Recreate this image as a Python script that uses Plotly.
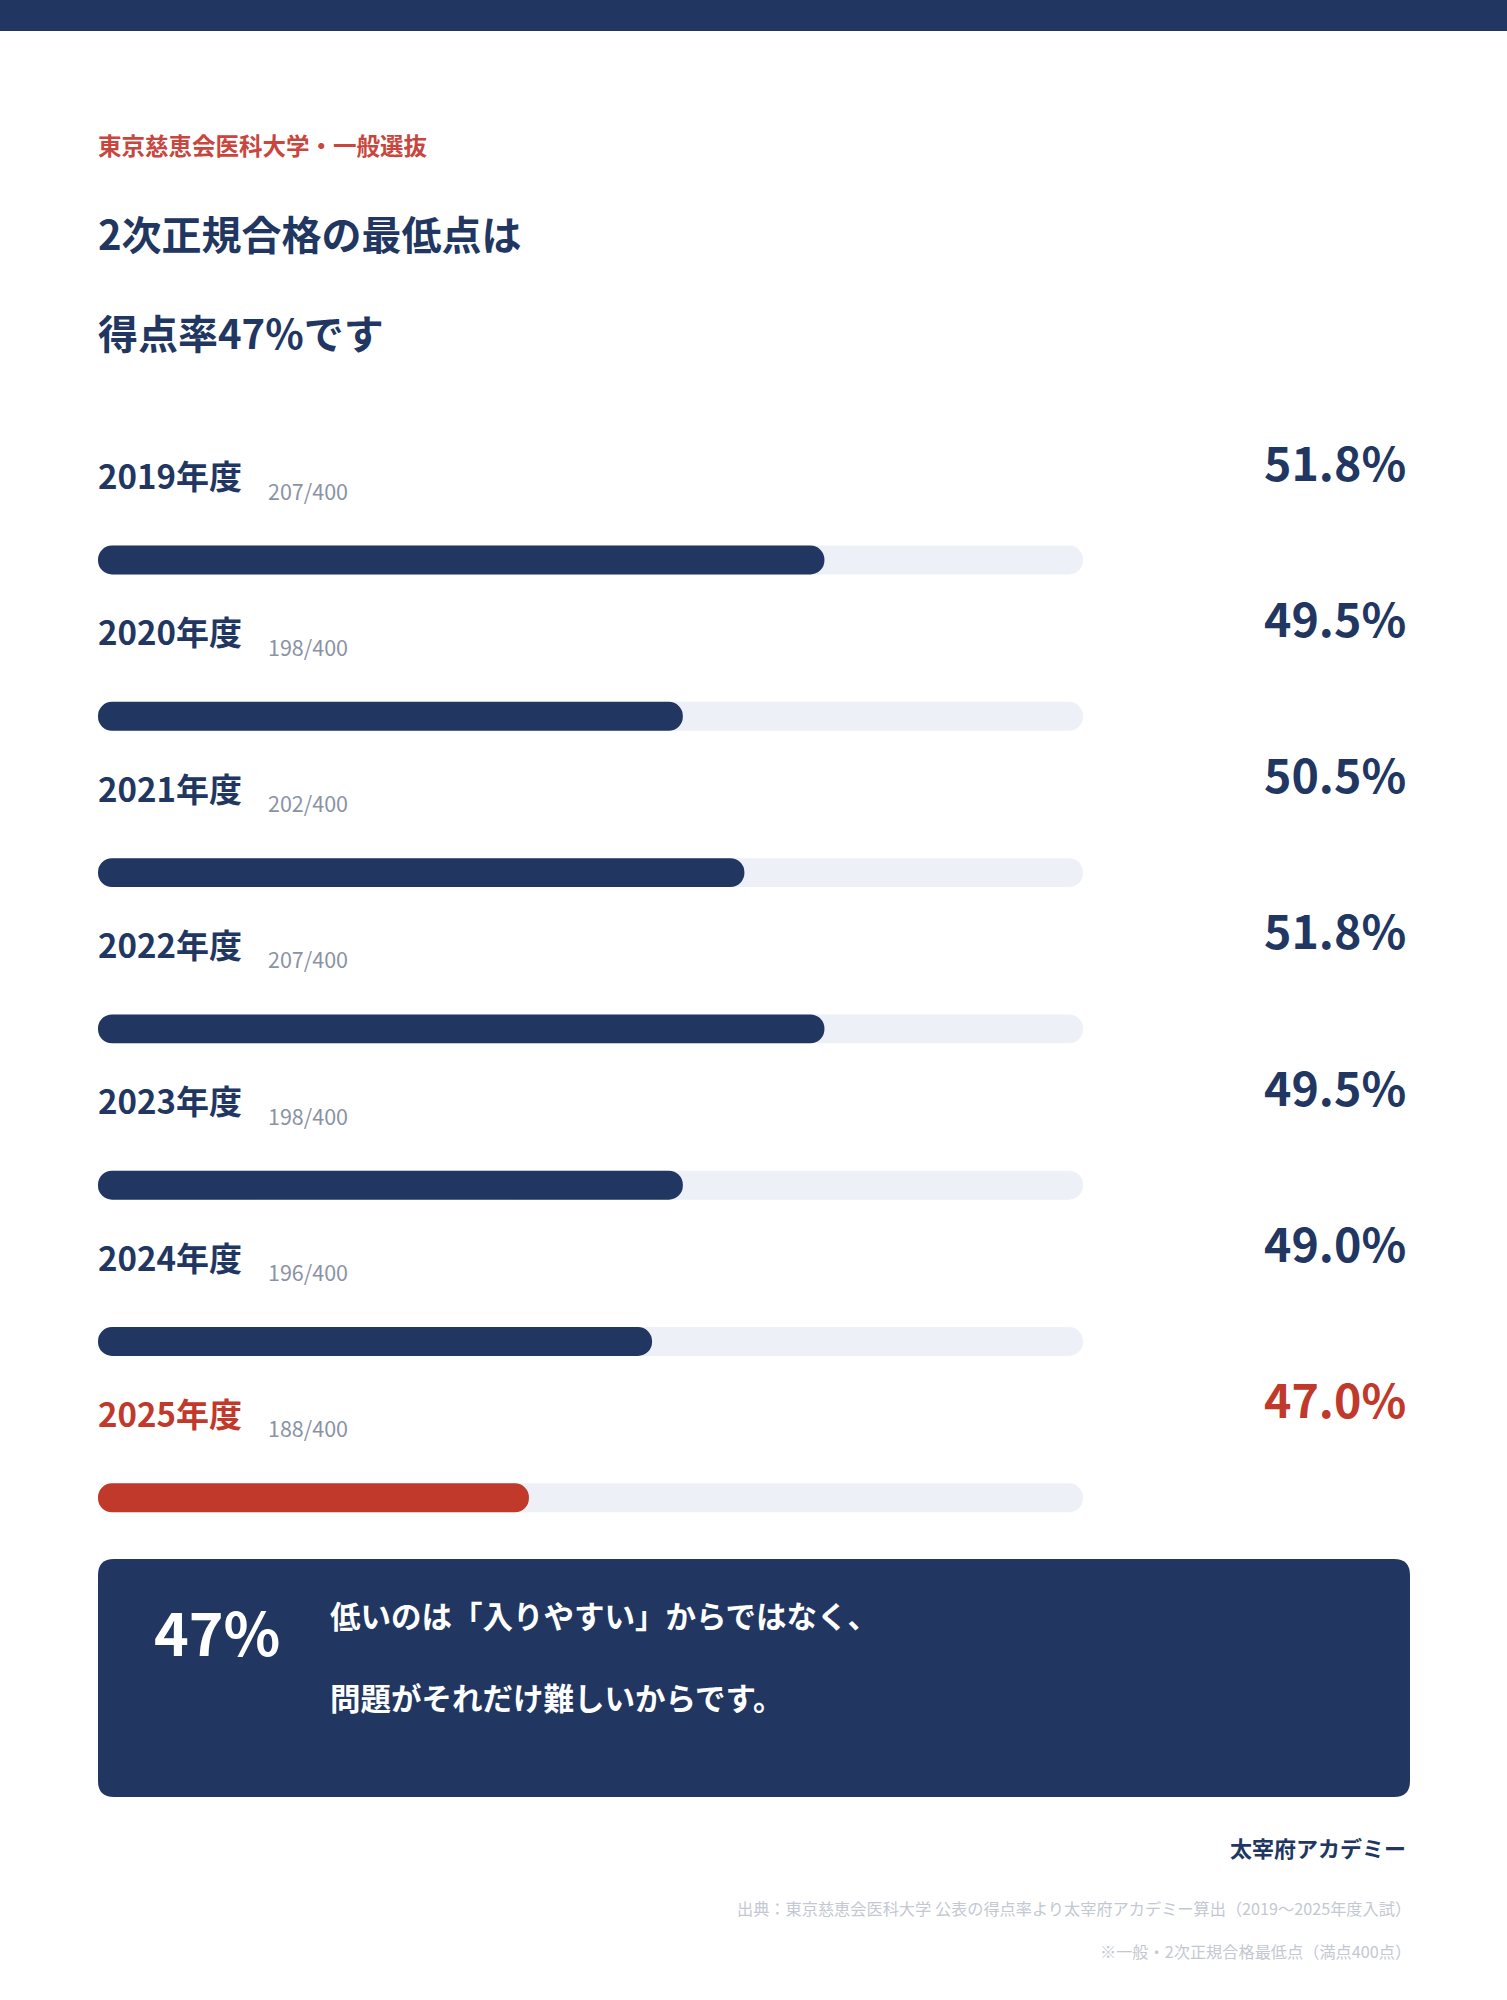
import plotly.graph_objects as go

# data
years = ["2019年度", "2020年度", "2021年度", "2022年度", "2023年度", "2024年度", "2025年度"]
scores = ["207/400", "198/400", "202/400", "207/400", "198/400", "196/400", "188/400"]
rates = [51.8, 49.5, 50.5, 51.8, 49.5, 49.0, 47.0]
rate_labels = ["51.8%", "49.5%", "50.5%", "51.8%", "49.5%", "49.0%", "47.0%"]
axis_min, axis_max = 40, 56

W, H = 1507, 2000
FONT = "Noto Sans CJK JP"
NAVY = "#213762"
RED = "#c0392b"
TRACK = "#edf0f7"
GRAY = "#8a93a6"
LIGHT = "#c3c8d3"

bar_colors = [NAVY] * (len(years) - 1) + [RED]


def px(x):
    return x / W


def py(y):
    return 1 - y / H


def rounded_rect(x0, y0, x1, y1, r):
    # pixel coords -> paper path with rounded corners
    pts = [
        f"M {px(x0 + r)},{py(y0)}",
        f"L {px(x1 - r)},{py(y0)}",
        f"Q {px(x1)},{py(y0)} {px(x1)},{py(y0 + r)}",
        f"L {px(x1)},{py(y1 - r)}",
        f"Q {px(x1)},{py(y1)} {px(x1 - r)},{py(y1)}",
        f"L {px(x0 + r)},{py(y1)}",
        f"Q {px(x0)},{py(y1)} {px(x0)},{py(y1 - r)}",
        f"L {px(x0)},{py(y0 + r)}",
        f"Q {px(x0)},{py(y0)} {px(x0 + r)},{py(y0)}",
        "Z",
    ]
    return " ".join(pts)


fig = go.Figure()

# background track (floating bars with a base get all corners rounded)
fig.add_trace(
    go.Bar(
        y=years,
        x=[axis_max - axis_min] * len(years),
        base=[axis_min] * len(years),
        orientation="h",
        width=0.185,
        marker=dict(color=TRACK, cornerradius=15, line=dict(width=0)),
        hoverinfo="skip",
        showlegend=False,
    )
)

# value bars
fig.add_trace(
    go.Bar(
        y=years,
        x=[r - axis_min for r in rates],
        base=[axis_min] * len(years),
        orientation="h",
        width=0.185,
        marker=dict(color=bar_colors, cornerradius=15, line=dict(width=0)),
        hoverinfo="skip",
        showlegend=False,
    )
)

annotations = []
for i, yr in enumerate(years):
    col = bar_colors[i]
    annotations.append(dict(
        xref="paper", yref="y", x=px(95.5), y=yr, yshift=85,
        xanchor="left", yanchor="middle", showarrow=False, text=yr,
        font=dict(family=FONT, size=33, color=col, weight=700),
    ))
    annotations.append(dict(
        xref="paper", yref="y", x=px(265.5), y=yr, yshift=70,
        xanchor="left", yanchor="middle", showarrow=False, text=scores[i],
        font=dict(family=FONT, size=21.5, color=GRAY),
    ))
    annotations.append(dict(
        xref="paper", yref="y", x=px(1408), y=yr, yshift=100,
        xanchor="right", yanchor="middle", showarrow=False, text=rate_labels[i],
        font=dict(family=FONT, size=46.5, color=col, weight=700),
    ))


def label(text, x, y, size, color, anchor="left", weight=400):
    annotations.append(dict(
        xref="paper", yref="paper", x=px(x), y=py(y),
        xanchor=anchor, yanchor="middle", showarrow=False, text=text,
        font=dict(family=FONT, size=size, color=color, weight=weight),
    ))


label("東京慈恵会医科大学・一般選抜", 95.5, 145, 23.5, "#c8463d", weight=700)
label("2次正規合格の最低点は", 95.5, 233, 40, NAVY, weight=700)
label("得点率47%です", 95.5, 332, 40, NAVY, weight=700)

label("47%", 152, 1630, 59, "white", weight=700)
label("低いのは「入りやすい」からではなく、", 328, 1615, 30.5, "white", weight=700)
label("問題がそれだけ難しいからです。", 328, 1697, 30.5, "white", weight=700)

label("太宰府アカデミー", 1408, 1847, 22, NAVY, anchor="right", weight=700)
label("出典：東京慈恵会医科大学 公表の得点率より太宰府アカデミー算出（2019〜2025年度入試）",
      1413, 1908, 16.2, LIGHT, anchor="right")
label("※一般・2次正規合格最低点（満点400点）", 1413, 1951, 16.2, LIGHT, anchor="right")

shapes = [
    dict(type="rect", xref="paper", yref="paper", x0=0, x1=1, y0=py(31), y1=1,
         fillcolor=NAVY, line=dict(width=0), layer="below"),
    dict(type="path", xref="paper", yref="paper",
         path=rounded_rect(98, 1559, 1410, 1797, 16),
         fillcolor=NAVY, line=dict(width=0), layer="below"),
]

row_step = 156.3
top = 560 - row_step / 2
bottom = top + row_step * len(years)

fig.update_layout(
    width=W,
    height=H,
    margin=dict(l=0, r=0, t=0, b=0),
    paper_bgcolor="white",
    plot_bgcolor="white",
    barmode="overlay",
    showlegend=False,
    xaxis=dict(
        domain=[px(98), px(1083)],
        range=[axis_min, axis_max],
        visible=False,
        fixedrange=True,
    ),
    yaxis=dict(
        domain=[py(bottom), py(top)],
        type="category",
        categoryorder="array",
        categoryarray=years,
        range=[len(years) - 0.5, -0.5],
        visible=False,
        fixedrange=True,
    ),
    annotations=annotations,
    shapes=shapes,
)

fig.write_html(
    "out.html",
    config={"displayModeBar": False},
    post_script="document.body.style.margin='0';",
)
